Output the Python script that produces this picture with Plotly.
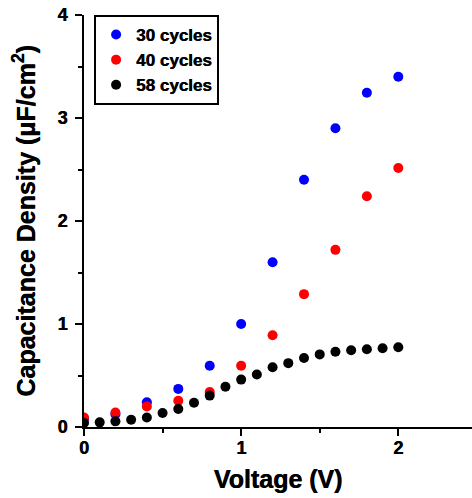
import plotly.graph_objects as go

# Data
v_blue = [0.0, 0.2, 0.4, 0.6, 0.8, 1.0, 1.2, 1.4, 1.6, 1.8, 2.0]
c_30 = [0.08, 0.125, 0.24, 0.37, 0.595, 1.0, 1.6, 2.40, 2.90, 3.245, 3.40]

v_red = [0.0, 0.2, 0.4, 0.6, 0.8, 1.0, 1.2, 1.4, 1.6, 1.8, 2.0]
c_40 = [0.093, 0.14, 0.20, 0.255, 0.34, 0.595, 0.89, 1.29, 1.72, 2.24, 2.515]

v_black = [0.0, 0.1, 0.2, 0.3, 0.4, 0.5, 0.6, 0.7, 0.8, 0.9, 1.0,
           1.1, 1.2, 1.3, 1.4, 1.5, 1.6, 1.7, 1.8, 1.9, 2.0]
c_58 = [0.04, 0.045, 0.055, 0.07, 0.093, 0.136, 0.175, 0.236, 0.305, 0.39, 0.46,
        0.51, 0.58, 0.62, 0.67, 0.705, 0.73, 0.745, 0.755, 0.765, 0.775]

names = ["30 cycles", "40 cycles", "58 cycles"]
colors = ["#0000ff", "#ff0000", "#000000"]

font_family = "Arial, Liberation Sans, sans-serif"
heavy = "0.5px 0px 0px black"

fig = go.Figure()
for xs, ys, name, col in zip([v_blue, v_red, v_black], [c_30, c_40, c_58], names, colors):
    fig.add_trace(go.Scatter(x=xs, y=ys, mode="markers", name=name,
                             marker=dict(color=col, size=10, line=dict(width=0))))

axis_common = dict(
    showline=True, linecolor="black", linewidth=2,
    ticks="outside", ticklen=7, tickwidth=2, tickcolor="black",
    showgrid=False, zeroline=False, automargin=False,
    ticklabeloverflow="allow",
    tickfont=dict(family=font_family, size=18, color="black", weight="bold", shadow=heavy),
    minor=dict(ticks="outside", ticklen=4, tickwidth=2, tickcolor="black", dtick=0.5),
)

fig.update_layout(
    width=472, height=498,
    margin=dict(l=84, r=0, t=15, b=71),
    paper_bgcolor="white", plot_bgcolor="white",
    font=dict(family=font_family, color="black"),
    xaxis=dict(range=[0, 2.469], dtick=1, tick0=0, ticklabelstandoff=-4,
               title=dict(text="<b>Voltage (V)</b>", font=dict(size=25, shadow=heavy), standoff=14),
               **axis_common),
    yaxis=dict(range=[0, 4], dtick=1, tick0=0, ticklabelstandoff=4,
               title=dict(text="<b>Capacitance Density (μF/cm<sup>2</sup>)</b>",
                          font=dict(size=25, shadow=heavy)),
               **axis_common),
    legend=dict(x=0.026, y=1, xanchor="left", yanchor="top",
                bordercolor="black", borderwidth=2, bgcolor="white",
                font=dict(family=font_family, size=17, color="black", weight="bold", shadow=heavy),
                tracegroupgap=0, itemwidth=30),
    showlegend=True,
)

# remove the browser's default 8px page margin so the figure fills the window exactly
fig.write_html("out.html",
               config={"displayModeBar": False},
               post_script="document.body.style.margin='0px';document.body.style.overflow='hidden';")
